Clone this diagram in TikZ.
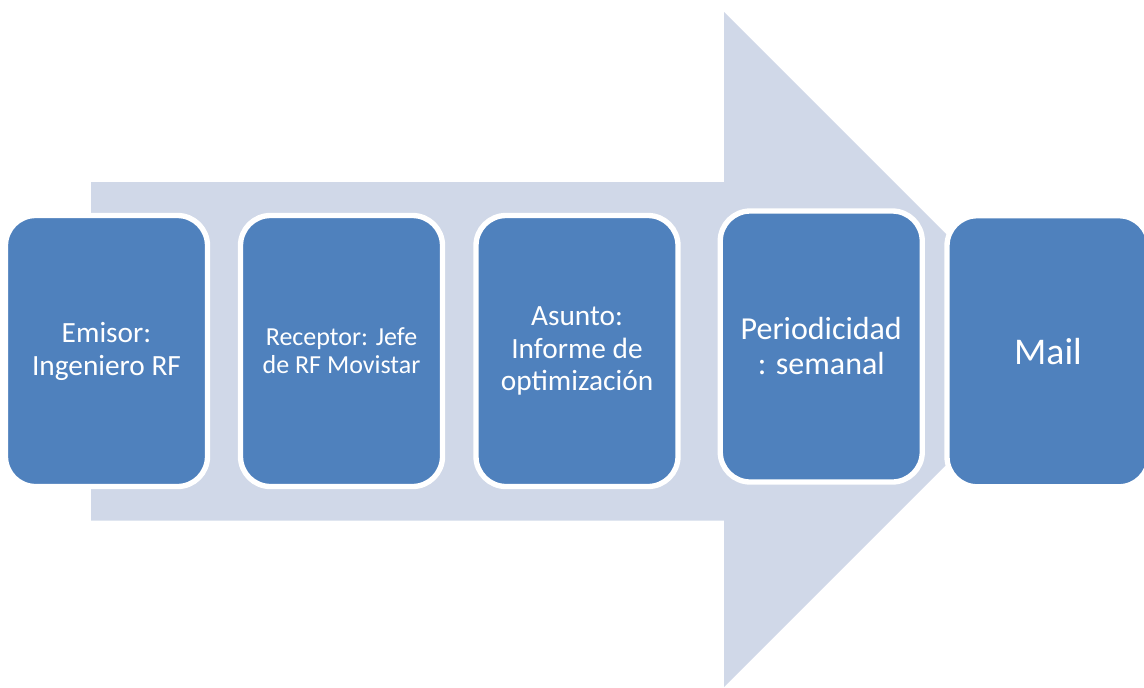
\documentclass[tikz,border=0pt]{standalone}
\usepackage{fontspec}
\setmainfont{Carlito}
\definecolor{arrowfill}{HTML}{D0D8E8}
\definecolor{boxfill}{HTML}{4F81BD}
\tikzset{
  stagebox/.style={draw=white, fill=boxfill, line width=4pt,
    rounded corners=22.5pt, minimum width=151.5pt, minimum height=203.25pt,
    inner sep=0pt, align=center, text=white},
}
\begin{document}
\begin{tikzpicture}[x=0.75pt, y=-0.75pt]
\useasboundingbox (0,0) rectangle (1144,687);
\fill[arrowfill] (91,182) -- (724,182) -- (724,12) -- (1061.5,349.5) -- (724,687) -- (724,520.5) -- (91,520.5) -- cycle;
\node[stagebox, font=\fontsize{22pt}{24.75pt}\selectfont] (emisor) at (106.5,351) {Emisor:\\Ingeniero RF};
\node[stagebox, font=\fontsize{19.5pt}{21pt}\selectfont] (receptor) at (341.5,351) {Receptor: Jefe\\de RF Movistar};
\node[stagebox, font=\fontsize{22pt}{24.4pt}\selectfont] (asunto) at (577,351) {Asunto:\\Informe de\\optimización};
\node[stagebox, font=\fontsize{24pt}{26.25pt}\selectfont] (periodo) at (821.25,346.5) {Periodicidad\\: semanal};
\node[stagebox, font=\fontsize{28.3pt}{32pt}\selectfont] (mail) at (1048,351.25) {Mail};
\end{tikzpicture}
\end{document}
